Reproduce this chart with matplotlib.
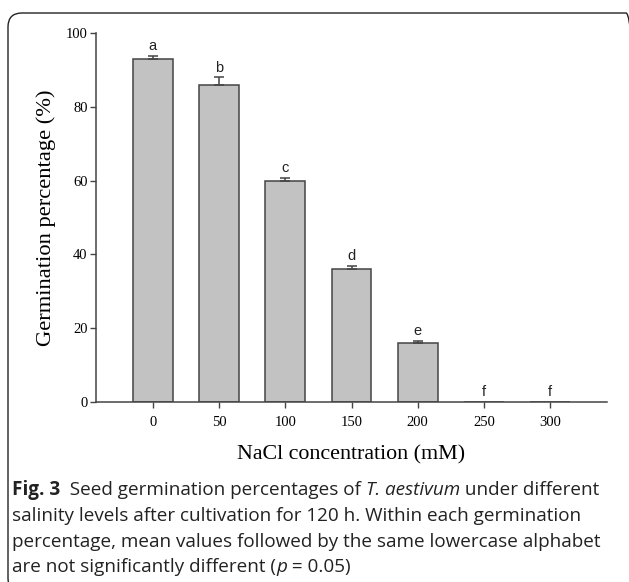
import matplotlib
matplotlib.use("Agg")
import matplotlib.pyplot as plt
from matplotlib.patches import FancyBboxPatch
from matplotlib.transforms import IdentityTransform

categories = ["0", "50", "100", "150", "200", "250", "300"]
values = [93.0, 86.0, 60.0, 36.0, 16.0, 0.0, 0.0]
errors = [0.8, 2.0, 0.8, 0.8, 0.5, 0.0, 0.0]
letters = ["a", "b", "c", "d", "e", "f", "f"]
yticks = [0, 20, 40, 60, 80, 100]

W, H = 629, 582
fig = plt.figure(figsize=(W / 100, H / 100), dpi=100)

# rounded frame
frame = FancyBboxPatch((8, -10), 632, H - 13 + 10,
                       boxstyle="round,pad=0,rounding_size=14",
                       transform=IdentityTransform(), fill=False,
                       edgecolor="#222222", linewidth=1.0)
fig.patches.append(frame)

ax = fig.add_axes([96 / W, 1 - 402 / H, (607 - 96) / W, (402 - 33) / H])
x = list(range(len(categories)))
ax.bar(x, values, width=0.6, color="#c2c2c2", edgecolor="#444444", linewidth=1.1, zorder=2)
ax.errorbar(x[:5], values[:5], yerr=[[0] * 5, errors[:5]], fmt="none",
            ecolor="#444444", elinewidth=1.1, capsize=3.5, capthick=1.1, zorder=3)
for xi, v, e, l in zip(x, values, errors, letters):
    ax.annotate(l, (xi, v + e), xytext=(0, 2), textcoords="offset points",
                ha="center", va="bottom", fontsize=10.5, family="Liberation Sans",
                color="#222222")

ax.set_xlim(-0.86, 6.86)
ax.set_ylim(0, 100)
ax.set_xticks(x)
ax.set_xticklabels(categories)
ax.set_yticks(yticks)
for s in ["top", "right"]:
    ax.spines[s].set_visible(False)
for s in ["left", "bottom"]:
    ax.spines[s].set_color("#444444")
    ax.spines[s].set_linewidth(1.1)
    ax.spines[s].set_zorder(4)
ax.tick_params(direction="out", length=4, width=1.0, color="#444444", labelsize=10.5)
ax.tick_params(axis="x", pad=6)
ax.tick_params(axis="y", pad=2)
for lab in ax.get_xticklabels() + ax.get_yticklabels():
    lab.set_family("Liberation Serif")
ax.set_xlabel("NaCl concentration (mM)", family="Liberation Serif", fontsize=15.8)
ax.set_ylabel("Germination percentage (%)", family="Liberation Serif", fontsize=16.2)
ax.xaxis.set_label_coords(0.5, -0.143)
ax.yaxis.set_label_coords(-0.097, 0.5)
ax.xaxis.label.set_va("center")
ax.yaxis.label.set_va("center")

# caption
fig.canvas.draw()
renderer = fig.canvas.get_renderer()

def line(segments, x0, y0, size=13.6):
    xpos = x0
    for txt, kw in segments:
        t = fig.text(xpos, y0, txt, transform=IdentityTransform(), fontsize=size,
                     family="Open Sans", va="baseline", ha="left", color="#222222", **kw)
        bb = t.get_window_extent(renderer)
        xpos = bb.x1

cap_x = 12
lines = [
    [("Fig. 3", dict(weight="bold")), ("  Seed germination percentages of ", {}),
     ("T. aestivum", dict(style="italic")), (" under different", {})],
    [("salinity levels after cultivation for 120 h. Within each germination", {})],
    [("percentage, mean values followed by the same lowercase alphabet", {})],
    [("are not significantly different (", {}), ("p", dict(style="italic")),
     (" = 0.05)", {})],
]
baselines = [495, 521, 547, 572]
for segs, b in zip(lines, baselines):
    line(segs, cap_x, H - b)

fig.savefig("out.png", dpi=100)
